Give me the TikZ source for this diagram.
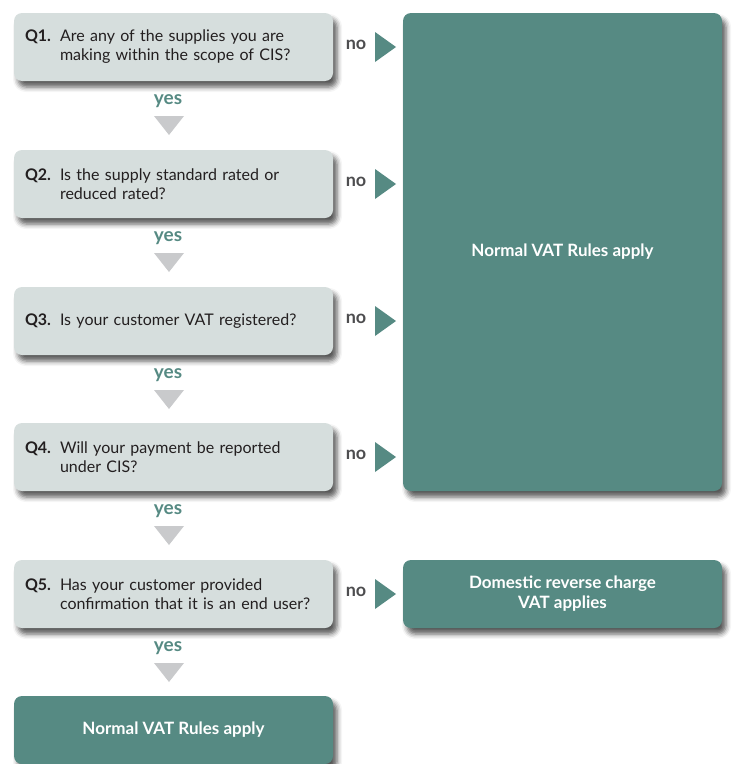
\documentclass[tikz,border=0pt]{standalone}
\usepackage{fontspec}
\setmainfont{Lato}
\usetikzlibrary{shadows.blur}
\definecolor{vatteal}{HTML}{568A83}
\definecolor{vatgrey}{HTML}{D6DEDD}
\definecolor{yesgrey}{HTML}{C9CACC}
\definecolor{notext}{HTML}{4D4D4F}
\definecolor{qtext}{HTML}{231F20}
\tikzset{
  boxshadow/.style={blur shadow={shadow xshift=4bp, shadow yshift=-6bp, shadow blur radius=5bp, shadow opacity=65}},
  question/.style={boxshadow, rounded corners=8bp, fill=vatgrey, text=qtext, minimum width=319bp, minimum height=68bp,
    text width=297bp, inner sep=11bp, font=\fontsize{16bp}{19bp}\selectfont},
  result/.style={boxshadow, rounded corners=8bp, fill=vatteal, text=white, minimum width=319bp, align=center,
    font=\fontsize{17bp}{20bp}\selectfont\bfseries},
  nolabel/.style={text=notext, font=\fontsize{18bp}{18bp}\selectfont\bfseries, inner sep=0pt},
  yeslabel/.style={text=vatteal, font=\fontsize{19bp}{19bp}\selectfont\bfseries, inner sep=0pt}
}
\newcommand{\qtext}[2]{\makebox[35bp][l]{\bfseries #1}\parbox[t]{262bp}{\raggedright #2}}
\begin{document}
\begin{tikzpicture}
\useasboundingbox (0bp,0bp) rectangle (739bp,-764bp);
% questions
\node (Q1) at (173.5bp,-47bp)[question] {\qtext{Q1.}{Are any of the supplies you are\\ making within the scope of CIS?}};
\node (Q2) at (173.5bp,-184bp)[question] {\qtext{Q2.}{Is the supply standard rated or\\ reduced rated?}};
\node (Q3) at (173.5bp,-321bp)[question] {\qtext{Q3.}{Is your customer VAT registered?}};
\node (Q4) at (173.5bp,-457bp)[question] {\qtext{Q4.}{Will your payment be reported\\ under CIS?}};
\node (Q5) at (173.5bp,-594bp)[question] {\qtext{Q5.}{Has your customer provided\\ confirmation that it is an end user?}};
% outcomes
\node (R1) at (562.5bp,-252bp)[result, minimum height=478bp] {Normal VAT Rules apply};
\node (R2) at (562.5bp,-594bp)[result, minimum height=68bp] {Domestic reverse charge\\ VAT applies};
\node (R3) at (173.5bp,-730bp)[result, minimum height=68bp] {Normal VAT Rules apply};
% no markers
\node (N1) at (356bp,-45bp)[nolabel] {no};
\node (N2) at (356bp,-182bp)[nolabel] {no};
\node (N3) at (356bp,-319bp)[nolabel] {no};
\node (N4) at (356bp,-455bp)[nolabel] {no};
\node (N5) at (356bp,-592bp)[nolabel] {no};
\fill [vatteal] (375bp,-32bp) -- (396bp,-47bp) -- (375bp,-62bp) -- cycle;
\fill [vatteal] (375bp,-169bp) -- (396bp,-184bp) -- (375bp,-199bp) -- cycle;
\fill [vatteal] (375bp,-306bp) -- (396bp,-321bp) -- (375bp,-336bp) -- cycle;
\fill [vatteal] (375bp,-442bp) -- (396bp,-457bp) -- (375bp,-472bp) -- cycle;
\fill [vatteal] (375bp,-579bp) -- (396bp,-594bp) -- (375bp,-609bp) -- cycle;
% yes markers
\node (Y1) at (168bp,-101bp)[yeslabel] {yes};
\node (Y2) at (168bp,-238bp)[yeslabel] {yes};
\node (Y3) at (168bp,-375bp)[yeslabel] {yes};
\node (Y4) at (168bp,-511bp)[yeslabel] {yes};
\node (Y5) at (168bp,-648bp)[yeslabel] {yes};
\fill [yesgrey] (154bp,-116bp) -- (184bp,-116bp) -- (169bp,-135bp) -- cycle;
\fill [yesgrey] (154bp,-253bp) -- (184bp,-253bp) -- (169bp,-272bp) -- cycle;
\fill [yesgrey] (154bp,-390bp) -- (184bp,-390bp) -- (169bp,-409bp) -- cycle;
\fill [yesgrey] (154bp,-526bp) -- (184bp,-526bp) -- (169bp,-545bp) -- cycle;
\fill [yesgrey] (154bp,-663bp) -- (184bp,-663bp) -- (169bp,-682bp) -- cycle;
\end{tikzpicture}
\end{document}
